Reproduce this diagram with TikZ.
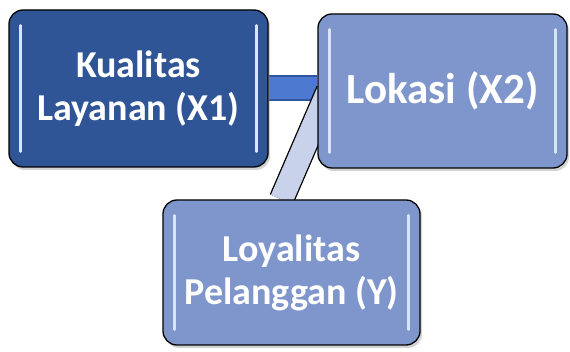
\documentclass[tikz,border=0pt]{standalone}
\usepackage{fontspec}
\setmainfont{Carlito}
\usetikzlibrary{shadows}
\usetikzlibrary{backgrounds}
\definecolor{darkbox}{HTML}{2F5597}
\definecolor{lightbox}{HTML}{7F96CD}
\definecolor{barmid}{HTML}{4D7AD0}
\definecolor{baredge}{HTML}{2F56A0}
\definecolor{barlight}{HTML}{C8D2EA}
\definecolor{glintcol}{HTML}{D8E4F8}
\tikzset{
  varbox/.style={draw=black, line width=1.3pt, rounded corners=14pt,
    minimum width=#1, text=white, align=center,
    font=\fontsize{38}{43}\selectfont\bfseries,
    drop shadow={shadow xshift=2pt, shadow yshift=-3pt, opacity=0.35}},
  glint/.style={glintcol, line width=2.5pt, line cap=round},
}
\begin{document}
\begin{tikzpicture}[x=1pt, y=-1pt]
	\useasboundingbox (0,0) rectangle (570,352);
	\node[varbox=259pt, minimum height=157pt, fill=darkbox] (kualitas) at (138.5,88.5) {Kualitas\\Layanan (X1)};
	\node[varbox=249pt, minimum height=154pt, fill=lightbox, font=\fontsize{43}{48}\selectfont\bfseries] (lokasi) at (442.5,91) {Lokasi (X2)};
	\node[varbox=257pt, minimum height=145pt, fill=lightbox] (loyalitas) at (291.5,272.5) {Loyalitas\\Pelanggan (Y)};
	% highlight strips inside the boxes
	\foreach \n in {kualitas,lokasi,loyalitas} {
		\draw[glint] ([shift={(12,16)}]\n.north west) -- ([shift={(12,-16)}]\n.south west);
		\draw[glint] ([shift={(-12,16)}]\n.north east) -- ([shift={(-12,-16)}]\n.south east);
	}
	% connecting bars
	\begin{scope}[on background layer]
		\draw[baredge, line width=2pt, double=barmid, double distance=22pt] (kualitas.east) -- (kualitas.east -| lokasi.west);
		\draw[black, line width=1.3pt, double=barlight, double distance=23pt] ([xshift=11pt]lokasi.west) -- ([xshift=-10pt]loyalitas.north);
	\end{scope}
\end{tikzpicture}
\end{document}
